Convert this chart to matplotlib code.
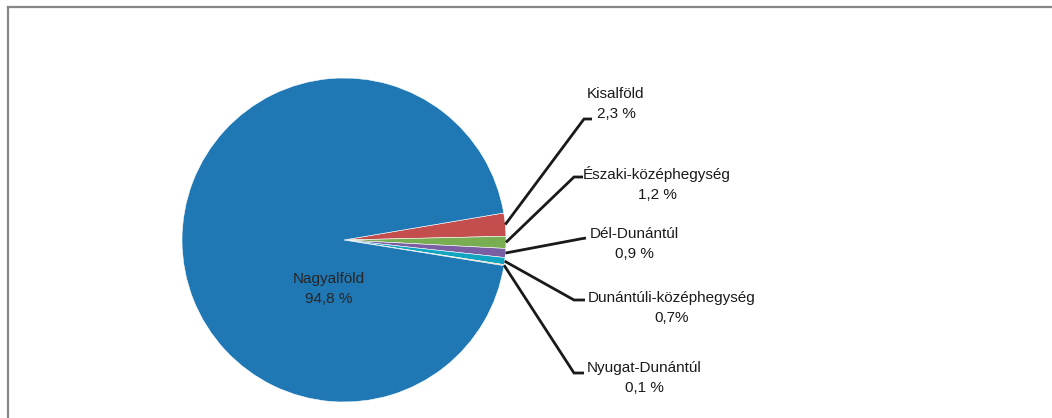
import numpy as np
import matplotlib
matplotlib.use("Agg")
import matplotlib.pyplot as plt
from matplotlib.lines import Line2D

regions = ['Kisalföld', 'Északi-középhegység', 'Dél-Dunántúl',
           'Dunántúli-középhegység', 'Nyugat-Dunántúl', 'Nagyalföld']
shares = [2.3, 1.2, 0.9, 0.7, 0.1, 94.8]
share_labels = ['2,3 %', '1,2 %', '0,9 %', '0,7%', '0,1 %', '94,8 %']
colors = ['#C44E4E', '#79AD52', '#7A5EA3', '#12A5C1', '#F39A4C', '#1F77B4']

W, H = 1052, 418
fam = ['Liberation Sans', 'DejaVu Sans']

fig = plt.figure(figsize=(W / 100, H / 100), dpi=100)
ax = fig.add_axes([0, 0, 1, 1])

cx, cy, r = 344, H - 240, 162
wedges, _ = ax.pie(shares, colors=colors, startangle=9.6, counterclock=False,
                   center=(cx, cy), radius=r, frame=True,
                   wedgeprops=dict(edgecolor='white', linewidth=0.4))
ax.set_xlim(0, W)
ax.set_ylim(0, H)
ax.set_aspect('equal')
ax.axis('off')

# label block positions (image px) and leader elbows
label_pos = [(616, 104), (657, 184), (634, 244), (672, 308), (644, 378)]
elbows = [((584, 119), (592, 119)),
          ((574, 177), (583, 177)),
          ((580, 239), (586, 238)),
          ((574, 300), (585, 300)),
          ((574, 373), (584, 373))]

for i in range(5):
    w = wedges[i]
    ang = np.deg2rad((w.theta1 + w.theta2) / 2)
    x0 = cx + r * np.cos(ang)
    y0 = cy + r * np.sin(ang)
    (ex, ey), (hx, hy) = elbows[i]
    ax.plot([x0, ex, hx], [y0, H - ey, H - hy], color='#1a1a1a', lw=2,
            solid_capstyle='butt', solid_joinstyle='miter')
    tx, ty = label_pos[i]
    ax.text(tx, H - ty, regions[i] + '\n' + share_labels[i], ha='center',
            va='center', multialignment='center', fontsize=11,
            family=fam, color='#1a1a1a', linespacing=1.55)

ax.text(329, H - 289, regions[5] + '\n' + share_labels[5], ha='center',
        va='center', multialignment='center', fontsize=11, family=fam,
        color='#262626', linespacing=1.55)

# chart frame (cut off at right and bottom)
fig.add_artist(Line2D([8 / W, 1], [1 - 7 / H, 1 - 7 / H], color='#888888', lw=1.6))
fig.add_artist(Line2D([8 / W, 8 / W], [0, 1 - 7 / H], color='#888888', lw=1.6))

fig.savefig('out.png', dpi=100)
